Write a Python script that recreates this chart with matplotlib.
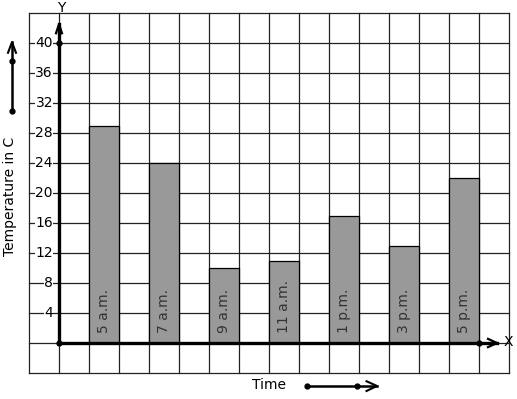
import numpy as np
import matplotlib.pyplot as plt

# readings
times = ['5 a.m.', '7 a.m.', '9 a.m.', '11 a.m.', '1 p.m.', '3 p.m.', '5 p.m.']
temps = [29, 24, 10, 11, 17, 13, 22]
bar_left = [1, 3, 5, 7, 9, 11, 13]
y_ticks = [4, 8, 12, 16, 20, 24, 28, 32, 36, 40]

W, H = 517, 399
fig = plt.figure(figsize=(W / 100, H / 100), dpi=100)
# grid area spans px 29..509 horizontally, 13..373 vertically
ax = fig.add_axes([29 / W, (H - 373) / H, 480 / W, 360 / H])
ax.set_xlim(-1, 15)
ax.set_ylim(-4, 44)
ax.axis('off')

# square grid
for gx in range(-1, 16):
    ax.plot([gx, gx], [-4, 44], color='#222222', lw=0.9, zorder=1, clip_on=False)
for gy in range(-4, 45, 4):
    ax.plot([-1, 15], [gy, gy], color='#222222', lw=0.9, zorder=1, clip_on=False)

# bars
ax.bar(bar_left, temps, width=1, align='edge', color='#999999',
       edgecolor='black', linewidth=0.9, zorder=2)
for bx, lab in zip(bar_left, times):
    ax.text(bx + 0.5, 1.3, lab, rotation=90, ha='center', va='bottom',
            fontsize=10, color='#333333', zorder=4)

# axes with arrows
ax.plot([0, 0], [0, 42.5], color='black', lw=2.4, zorder=3, clip_on=False)
ax.plot([0, 14.6], [0, 0], color='black', lw=2.4, zorder=3, clip_on=False)
ax.plot([-0.1, 0, 0.1], [41.3, 42.5, 41.3], color='black', lw=1.6, zorder=3, clip_on=False)
ax.plot([14.3, 14.6, 14.3], [0.55, 0, -0.55], color='black', lw=1.6, zorder=3, clip_on=False)
ax.plot([0, 0, 14], [0, 40, 0], 'o', color='black', ms=3.5, zorder=4, clip_on=False)
ax.text(0.07, 44.6, 'Y', ha='center', va='center', fontsize=10, clip_on=False)
ax.text(14.97, 0.1, 'X', ha='center', va='center', fontsize=10, clip_on=False)

# tick labels over the grid
for t in y_ticks:
    ax.text(-0.2, t, str(t), ha='right', va='center', fontsize=10, zorder=3,
            bbox=dict(facecolor='white', edgecolor='none', pad=0.3))

# axis titles with little arrows
ax.text(-1.62, 19.6, 'Temperature in C', rotation=90, ha='center', va='center',
        fontsize=10, clip_on=False)
ax.plot([-1.567, -1.567], [30.9, 40.1], color='black', lw=1.8, clip_on=False)
ax.plot([-1.7, -1.567, -1.434], [38.7, 40.1, 38.7], color='black', lw=1.5, clip_on=False)
ax.plot([-1.567, -1.567], [30.9, 37.6], 'o', color='black', ms=3.5, clip_on=False)

ax.text(7.0, -5.6, 'Time', ha='center', va='center', fontsize=10, clip_on=False)
ax.plot([8.27, 10.6], [-5.73, -5.73], color='black', lw=1.8, clip_on=False)
ax.plot([10.25, 10.6, 10.25], [-5.1, -5.73, -6.4], color='black', lw=1.5, clip_on=False)
ax.plot([8.27, 9.93], [-5.73, -5.73], 'o', color='black', ms=3.5, clip_on=False)

fig.savefig('out.png', dpi=100, facecolor='white')
